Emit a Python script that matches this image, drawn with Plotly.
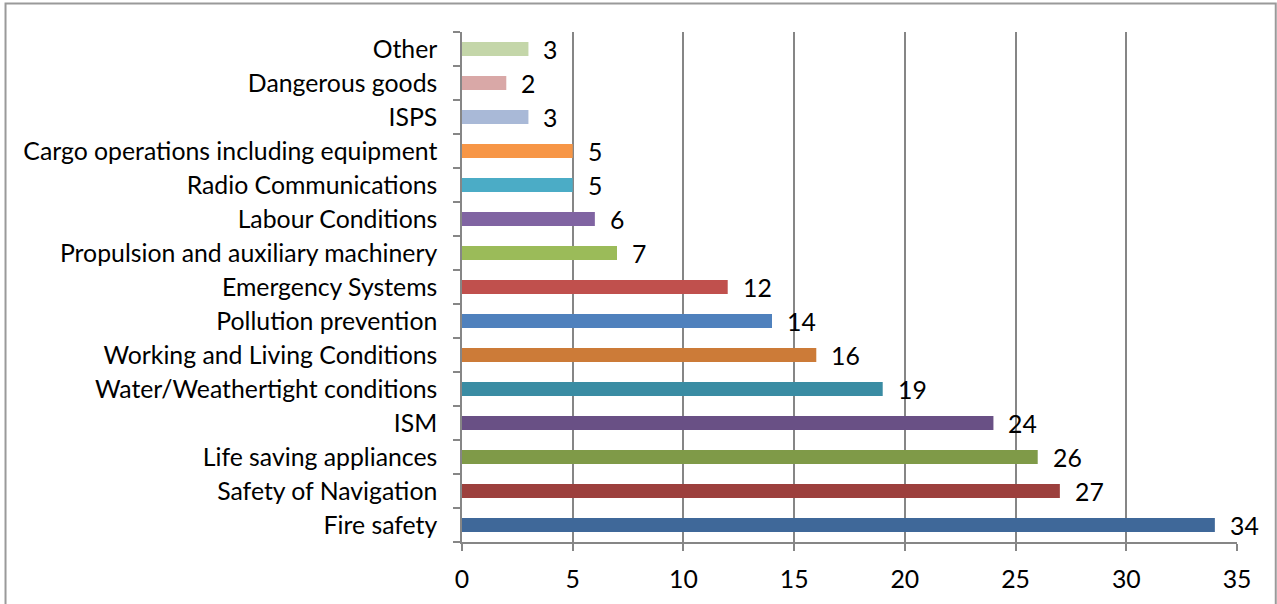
import plotly.graph_objects as go

categories = [
    "Fire safety", "Safety of Navigation", "Life saving appliances", "ISM",
    "Water/Weathertight conditions", "Working and Living Conditions",
    "Pollution prevention", "Emergency Systems", "Propulsion and auxiliary machinery",
    "Labour Conditions", "Radio Communications", "Cargo operations including equipment",
    "ISPS", "Dangerous goods", "Other",
]
values = [34, 27, 26, 24, 19, 16, 14, 12, 7, 6, 5, 5, 3, 2, 3]
colors = [
    "#3F6899", "#9C403D", "#7F9A48", "#695085", "#3A8CA3", "#CC7B38",
    "#4F81BD", "#C0504D", "#9BBB59", "#8064A2", "#4BACC6", "#F79646",
    "#A9B9D7", "#D9A8A7", "#C4D6A9",
]
x_ticks = [0, 5, 10, 15, 20, 25, 30, 35]

FONT = "Lato, Carlito, Calibri, sans-serif"
FS = 24.8
AXIS_COLOR = "#868686"

fig = go.Figure()
fig.add_trace(go.Bar(
    y=categories, x=values, orientation="h",
    marker=dict(color=colors, line=dict(width=0)),
    hoverinfo="x+y",
))

for c, v in zip(categories, values):
    fig.add_annotation(
        x=v, y=c, xref="x", yref="y", text=str(v), showarrow=False,
        xanchor="left", yanchor="middle", xshift=13,
        font=dict(family=FONT, size=FS, color="#000000"),
    )

# outer chart border
fig.add_shape(
    type="rect", xref="paper", yref="paper",
    x0=-0.589, x1=1.050, y0=-0.2, y1=1.056,
    line=dict(color="#9A9A9A", width=2), fillcolor="rgba(0,0,0,0)", layer="below",
)

fig.update_layout(
    width=1277, height=604,
    margin=dict(l=462, r=40, t=32, b=62, pad=0),
    paper_bgcolor="white", plot_bgcolor="white",
    bargap=0.59,
    showlegend=False,
    font=dict(family=FONT, size=FS, color="#000000"),
    xaxis=dict(
        range=[0, 35], tickvals=x_ticks, ticktext=[str(t) for t in x_ticks],
        showgrid=True, gridcolor=AXIS_COLOR, gridwidth=1.5,
        showline=True, linecolor=AXIS_COLOR, linewidth=1.5,
        ticks="outside", ticklen=7, tickcolor=AXIS_COLOR, tickwidth=1.5,
        ticklabelstandoff=7, zeroline=False,
        tickfont=dict(family=FONT, size=FS, color="#000000"),
        fixedrange=True, automargin=False,
    ),
    yaxis=dict(
        type="category", categoryorder="array", categoryarray=categories,
        showgrid=False, showline=True, linecolor=AXIS_COLOR, linewidth=1.5,
        ticks="outside", ticklen=7, tickcolor=AXIS_COLOR, tickwidth=1.5,
        tickson="boundaries", ticklabelstandoff=18,
        tickfont=dict(family=FONT, size=FS, color="#000000"),
        fixedrange=True, automargin=False,
    ),
)

fig.write_html(
    "out.html",
    config={"displayModeBar": False},
    post_script="document.body.style.margin='0';document.body.style.overflow='hidden';",
)
